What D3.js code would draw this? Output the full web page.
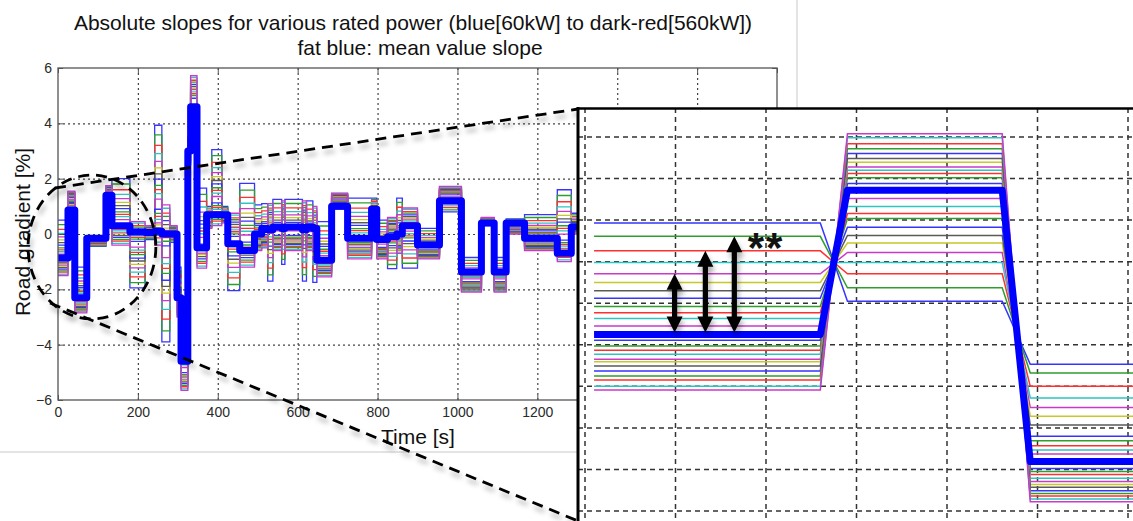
<!DOCTYPE html>
<html>
<head>
<meta charset="utf-8">
<script src="https://cdn.jsdelivr.net/npm/d3@7"></script>
<style>
body { margin: 0; background: #fff; }
svg { display: block; }
text { font-family: Arial, "Liberation Sans", sans-serif; }
.tick text { font-size: 14px; fill: #2a2a2a; }
</style>
</head>
<body>
<div id="chart"></div>
<script>
// ---- main plot data (time in s, slope in %) ----
var times = [0,25,42,72,120,135,180,218,242,260,280,298,308,325,332,348,372,385,410,425,
	455,492,510,525,538,560,568,612,622,638,648,685,725,785,798,825,848,862,900,955,
	1010,1060,1092,1122,1168,1250,1285,1320];
var meanSlope = [-0.87,0.87,-2.3,-0.15,1.4,0.3,0.07,0.05,0.1,0.0,0.0,-2.3,-4.6,3.0,4.6,-0.5,0.7,0.7,0.7,-0.35,
	-0.6,0.0,0.2,0.15,0.25,0.2,0.25,0.15,0.25,0.2,-0.95,1.0,-0.15,0.9,-0.2,-0.1,0.0,0.3,-0.4,1.2,
	-1.37,0.4,-1.37,0.4,-0.15,-0.7,0.25];
// value of the blue (60kW) line and of the last (magenta) line in each step
var bandBlue = [0.5,0.8,-1.2,-0.45,1.3,2.0,-1.95,-0.2,3.93,-3.9,-0.3,-1.2,-3.5,2.5,3.0,1.66,1.0,3.05,1.0,-2.05,
	1.83,1.05,1.1,-1.7,1.25,-1.1,1.25,-1.7,1.2,-1.75,0.45,0.9,1.3,1.3,0.5,-1.25,1.3,-1.23,0.2,0.8,
	-0.85,0.3,-0.85,0.55,0.7,1.6,0.75];
var bandMagenta = [-1.5,1.55,-2.85,-0.15,1.75,-0.4,0.45,0.3,-0.4,1.05,0.3,-3.0,-5.65,3.5,5.72,-1.23,0.2,0.3,0.4,0.75,
	-1.2,-0.6,-0.5,1.1,-0.6,1.2,-0.6,1.2,-0.6,1.0,-1.55,1.48,-0.9,0.6,-0.9,0.6,-0.7,0.94,-0.9,1.72,
	-2.1,0.6,-2.1,0.0,-0.6,-1.0,0.0];
// relative position of each rated-power line inside the band (read from the zoom)
var seriesPos = [0,0.080,0.167,0.237,0.302,0.356,0.406,0.450,0.501,0.537,0.571,0.616,
	0.701,0.735,0.761,0.785,0.815,0.831,0.857,0.885,0.916,0.940,0.976,1];
var seriesColor = ["#3535ff","#2e9e2e","#ff3030","#2ec4c4","#c93ac9","#c8c82a","#5a5a5a","#3535ff","#2e9e2e","#ff3030","#2ec4c4","#c93ac9",
	"#3535ff","#2e9e2e","#ff3030","#2ec4c4","#c93ac9","#c8c82a","#5a5a5a","#3535ff","#2e9e2e","#ff3030","#2ec4c4","#c93ac9"];
var xTicks = [0,200,400,600,800,1000,1200,1400,1600,1800];
var yTicks = [-6,-4,-2,0,2,4,6];

// ---- zoom inset data (inset units) ----
var insetBreaks = [0.1,2.6,2.9,4.61,4.92,6.3];
var insetLeft = [6.93,6.61,6.26,5.98,5.71,5.50,5.30,5.12,4.92,4.77,4.63,4.45,
	4.11,3.97,3.87,3.77,3.65,3.59,3.49,3.37,3.25,3.15,3.00,2.91];
var insetMid = [5.05,5.37,5.71,5.98,6.22,6.45,6.63,6.83,7.04,7.16,7.33,7.52,
	7.88,8.02,8.12,8.20,8.28,8.39,8.48,8.60,8.72,8.84,8.98,9.08];
var insetRight = [3.53,3.32,3.00,2.72,2.49,2.28,2.07,1.80,1.69,1.57,1.47,1.37,
	1.02,0.95,0.88,0.79,0.71,0.64,0.57,0.49,0.42,0.36,0.29,0.22];
var insetMean = [4.25,7.72,1.19];
var arrowPos = [0.99,1.33,1.65];
var arrowSeries = [4,2,1];

var W = 1133, H = 521;
var plot = {left: 58, top: 68, right: 777, bottom: 400};

var svg = d3.select("#chart").append("svg")
	.attr("width", W)
	.attr("height", H);

var defs = svg.append("defs");
defs.append("clipPath").attr("id", "plotClip")
	.append("rect")
	.attr("x", plot.left).attr("y", plot.top)
	.attr("width", plot.right - plot.left).attr("height", plot.bottom - plot.top);
defs.append("clipPath").attr("id", "insetClip")
	.append("rect")
	.attr("x", 579).attr("y", 109).attr("width", W - 579).attr("height", H - 109);
defs.append("filter").attr("id", "shadow")
	.attr("filterUnits", "userSpaceOnUse")
	.attr("x", 0).attr("y", 0).attr("width", W).attr("height", H)
	.append("feDropShadow")
	.attr("dx", 2).attr("dy", 5).attr("stdDeviation", 2.5)
	.attr("flood-color", "#000").attr("flood-opacity", 0.3);

var x = d3.scaleLinear().domain([0, 1800]).range([plot.left, plot.right]);
var y = d3.scaleLinear().domain([-6, 6]).range([plot.bottom, plot.top]);

// window edges
svg.append("line").attr("x1", 797).attr("x2", 797).attr("y1", 0).attr("y2", 108)
	.attr("stroke", "#c8c8c8");
svg.append("line").attr("x1", 0).attr("x2", 578).attr("y1", 452).attr("y2", 452)
	.attr("stroke", "#c8c8c8");

// grid
var gridX = svg.append("g")
	.attr("transform", `translate(0,${plot.bottom})`)
	.call(d3.axisBottom(x).tickValues(xTicks.slice(1, -1)).tickSize(-(plot.bottom - plot.top)).tickFormat(""));
var gridY = svg.append("g")
	.attr("transform", `translate(${plot.left},0)`)
	.call(d3.axisLeft(y).tickValues(yTicks.slice(1, -1)).tickSize(-(plot.right - plot.left)).tickFormat(""));
[gridX, gridY].forEach(function(g) {
	g.select(".domain").remove();
	g.selectAll("line").attr("stroke", "#444").attr("stroke-width", 1.2).attr("stroke-dasharray", "2,3");
});

// thin lines
var stepLine = d3.line()
	.x(function(d) { return x(d.t); })
	.y(function(d) { return y(d.v); })
	.curve(d3.curveStepAfter);

function seriesData(valueAt) {
	var pts = meanSlope.map(function(m, j) { return {t: times[j], v: valueAt(j)}; });
	pts.push({t: times[times.length - 1], v: valueAt(meanSlope.length - 1)});
	return pts;
}

var lines = svg.append("g").attr("clip-path", "url(#plotClip)");
lines.selectAll("path.thin")
	.data(seriesPos)
	.enter()
	.append("path")
	.attr("class", "thin")
	.attr("fill", "none")
	.attr("stroke", function(d, i) { return seriesColor[i]; })
	.attr("stroke-width", 1.3)
	.attr("d", function(p) {
		return stepLine(seriesData(function(j) { return bandBlue[j] + p * (bandMagenta[j] - bandBlue[j]); }));
	});

lines.append("path")
	.attr("fill", "none")
	.attr("stroke", "#0000ff")
	.attr("stroke-width", 7)
	.attr("stroke-linejoin", "round")
	.attr("d", stepLine(seriesData(function(j) { return meanSlope[j]; })));

// frame and axes
svg.append("rect")
	.attr("x", plot.left).attr("y", plot.top)
	.attr("width", plot.right - plot.left).attr("height", plot.bottom - plot.top)
	.attr("fill", "none").attr("stroke", "#555").attr("stroke-width", 1.3);

var axes = [
	svg.append("g").attr("transform", `translate(0,${plot.bottom})`)
		.call(d3.axisBottom(x).tickValues(xTicks).tickFormat(d3.format("d")).tickSizeInner(-5).tickSizeOuter(0).tickPadding(7)),
	svg.append("g").attr("transform", `translate(${plot.left},0)`)
		.call(d3.axisLeft(y).tickValues(yTicks).tickFormat(d3.format("d")).tickSizeInner(-5).tickSizeOuter(0).tickPadding(6)),
	svg.append("g").attr("transform", `translate(0,${plot.top})`)
		.call(d3.axisTop(x).tickValues(xTicks).tickSizeInner(-5).tickSizeOuter(0).tickFormat("")),
	svg.append("g").attr("transform", `translate(${plot.right},0)`)
		.call(d3.axisRight(y).tickValues(yTicks).tickSizeInner(-5).tickSizeOuter(0).tickFormat(""))
];
axes.forEach(function(g) {
	g.select(".domain").remove();
	g.selectAll(".tick line").attr("stroke", "#555");
});

// titles
svg.append("text").attr("x", 413).attr("y", 30).attr("text-anchor", "middle")
	.style("font-size", "21px").attr("fill", "#111")
	.text("Absolute slopes for various rated power (blue[60kW] to dark-red[560kW])");
svg.append("text").attr("x", 420).attr("y", 55).attr("text-anchor", "middle")
	.style("font-size", "21px").attr("fill", "#111")
	.text("fat blue: mean value slope");
svg.append("text").attr("x", 418).attr("y", 444).attr("text-anchor", "middle")
	.style("font-size", "21px").attr("fill", "#111")
	.text("Time [s]");
svg.append("text").attr("transform", "translate(30,232) rotate(-90)").attr("text-anchor", "middle")
	.style("font-size", "21px").attr("fill", "#111")
	.text("Road gradient [%]");

// zoom marker: ellipse and connecting dashed lines
var marks = svg.append("g").attr("filter", "url(#shadow)")
	.attr("fill", "none").attr("stroke", "#000").attr("stroke-width", 2.8).attr("stroke-dasharray", "11,7");
marks.append("ellipse")
	.attr("cx", x(85)).attr("cy", y(-0.47))
	.attr("rx", x(160) - x(0)).attr("ry", y(0) - y(2.6));
marks.append("line").attr("x1", 55).attr("y1", 188).attr("x2", 578).attr("y2", 109);
marks.append("line").attr("x1", 50).attr("y1", 303).attr("x2", 578).attr("y2", 521);

// ---- inset ----
var ix = d3.scaleLinear().domain([0, 6]).range([585, 1128]);
var iy = d3.scaleLinear().domain([0, 9]).range([511, 137]);

var inset = svg.append("g");
inset.append("rect").attr("x", 578).attr("y", 108).attr("width", W - 578).attr("height", H - 108).attr("fill", "#fff");
var ig = inset.append("g").attr("clip-path", "url(#insetClip)");

ig.selectAll("line.vg").data(d3.range(0, 7)).enter().append("line")
	.attr("x1", function(d) { return ix(d); }).attr("x2", function(d) { return ix(d); })
	.attr("y1", 108).attr("y2", H);
ig.selectAll("line.hg").data(d3.range(0, 11)).enter().append("line")
	.attr("x1", 578).attr("x2", W)
	.attr("y1", function(d) { return iy(d); }).attr("y2", function(d) { return iy(d); });
ig.selectAll("line").attr("stroke", "#333").attr("stroke-width", 1.5).attr("stroke-dasharray", "5,4");

var insetLine = d3.line()
	.x(function(d) { return ix(d[0]); })
	.y(function(d) { return iy(d[1]); });

function insetPts(l, m, r) {
	var lv = [l, l, m, m, r, r];
	return insetBreaks.map(function(b, k) { return [b, lv[k]]; });
}

ig.selectAll("path.thin")
	.data(insetLeft)
	.enter()
	.append("path")
	.attr("fill", "none")
	.attr("stroke", function(d, i) { return seriesColor[i]; })
	.attr("stroke-width", 1.5)
	.attr("d", function(d, i) { return insetLine(insetPts(insetLeft[i], insetMid[i], insetRight[i])); });

ig.append("path")
	.attr("fill", "none")
	.attr("stroke", "#0000ff")
	.attr("stroke-width", 7)
	.attr("stroke-linejoin", "round")
	.attr("d", insetLine(insetPts(insetMean[0], insetMean[1], insetMean[2])));

// double arrows
var arrows = ig.append("g").attr("filter", "url(#shadow)");
arrows.selectAll("path")
	.data(arrowPos)
	.enter()
	.append("path")
	.attr("fill", "#000")
	.attr("d", function(s, k) {
		var cx = ix(s), y1 = iy(insetLeft[arrowSeries[k]]), y2 = iy(insetMean[0]) - 2;
		var hw = 8, hl = 16, sw = 2.6;
		return `M${cx},${y1} L${cx + hw},${y1 + hl} L${cx + sw},${y1 + hl} L${cx + sw},${y2 - hl} L${cx + hw},${y2 - hl}` +
			` L${cx},${y2} L${cx - hw},${y2 - hl} L${cx - sw},${y2 - hl} L${cx - sw},${y1 + hl} L${cx - hw},${y1 + hl} Z`;
	});

ig.append("text")
	.attr("x", ix(2.0)).attr("y", 262)
	.attr("text-anchor", "middle")
	.style("font-size", "42px").style("font-weight", "bold").style("letter-spacing", "2px")
	.attr("fill", "#111")
	.text("**");

// inset border
inset.append("line").attr("x1", 578).attr("x2", 578).attr("y1", 107).attr("y2", H)
	.attr("stroke", "#000").attr("stroke-width", 3);
inset.append("line").attr("x1", 577).attr("x2", W).attr("y1", 108.5).attr("y2", 108.5)
	.attr("stroke", "#000").attr("stroke-width", 2.5);
</script>
</body>
</html>
